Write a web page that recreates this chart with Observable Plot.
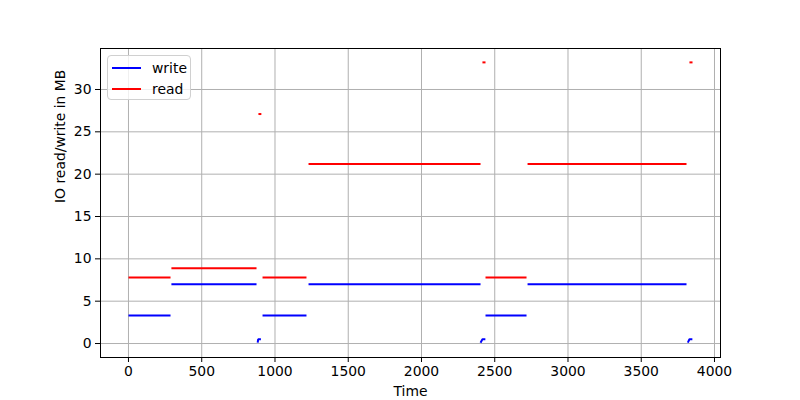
<!DOCTYPE html>
<html>
<head>
<meta charset="utf-8">
<script src="https://cdn.jsdelivr.net/npm/d3@7"></script>
<script src="https://cdn.jsdelivr.net/npm/@observablehq/plot@0.6"></script>
<style>
  html, body { margin: 0; padding: 0; background: #fff; }
  #wrap { position: relative; width: 800px; height: 400px; font-family: "DejaVu Sans", sans-serif; }
  #legend { position: absolute; left: 107px; top: 55px; width: 84px; height: 45px; border: 1px solid #d0d0d0; border-radius: 4px; background: rgba(255,255,255,0.8); box-sizing: border-box; font-size: 13.9px; color: #000; }
  .item { position: absolute; left: 4px; height: 16px; display: flex; align-items: center; }
  .sw { width: 29px; height: 2px; margin-right: 11px; }
</style>
</head>
<body>
<div id="wrap"></div>
<script>
// Segment data (time in seconds, values in MB)
const segStart = [0, 293, 915, 1229, 2437, 2724];
const segEnd   = [287, 874, 1215, 2403, 2717, 3809];
const writeVal = [3.3, 7.0, 3.3, 7.0, 3.3, 7.0];
const readVal  = [7.8, 8.9, 7.8, 21.2, 7.8, 21.2];

// Short blips between phases
const writeBlipTime = [[882, 885, 904], [2403, 2416, 2436], [3818, 3829, 3849]];
const writeBlipVal  = [[0.1, 0.5, 0.5], [0.1, 0.5, 0.5], [0.1, 0.5, 0.5]];
const readBlipTime  = [[887, 907], [2416, 2437], [3829, 3850]];
const readBlipVal   = [[27.1, 27.1], [33.2, 33.2], [33.2, 33.2]];

const xTicks = [0, 500, 1000, 1500, 2000, 2500, 3000, 3500, 4000];
const yTicks = [0, 5, 10, 15, 20, 25, 30];
const seriesNames = ["write", "read"];
const seriesColors = ["blue", "red"];

const rows = [];
segStart.forEach((s, i) => {
  rows.push({t: s, v: writeVal[i], series: "write", seg: "w" + i});
  rows.push({t: segEnd[i], v: writeVal[i], series: "write", seg: "w" + i});
  rows.push({t: s, v: readVal[i], series: "read", seg: "r" + i});
  rows.push({t: segEnd[i], v: readVal[i], series: "read", seg: "r" + i});
});
const blips = [];
writeBlipTime.forEach((ts, i) => ts.forEach((t, j) => blips.push({t, v: writeBlipVal[i][j], series: "write", seg: "wb" + i})));
readBlipTime.forEach((ts, i) => ts.forEach((t, j) => blips.push({t, v: readBlipVal[i][j], series: "read", seg: "rb" + i})));

const font = "DejaVu Sans, sans-serif";
const fmt = d => String(d);
const chart = Plot.plot({
  width: 800,
  height: 400,
  marginLeft: 100,
  marginRight: 80,
  marginTop: 48,
  marginBottom: 43,
  style: {fontFamily: font, fontSize: "13.9px", color: "#000", background: "#fff"},
  x: {domain: [-191, 4041]},
  y: {domain: [-1.65, 34.84]},
  color: {domain: seriesNames, range: seriesColors},
  marks: [
    Plot.gridX(xTicks, {stroke: "#b0b0b0", strokeOpacity: 1, strokeWidth: 1}),
    Plot.gridY(yTicks, {stroke: "#b0b0b0", strokeOpacity: 1, strokeWidth: 1}),
    Plot.line(rows, {x: "t", y: "v", z: "seg", stroke: "series", strokeWidth: 2, strokeLinecap: "butt"}),
    Plot.line(blips, {x: "t", y: "v", z: "seg", stroke: "series", strokeWidth: 2, strokeLinecap: "butt", strokeLinejoin: "miter"}),
    Plot.frame({stroke: "#000", strokeWidth: 1}),
    Plot.axisX(xTicks, {tickSize: 5, tickPadding: 4, label: null, tickFormat: fmt, fontSize: 13.9, stroke: "#000"}),
    Plot.axisY(yTicks, {tickSize: 5, tickPadding: 4, label: null, tickFormat: fmt, fontSize: 13.9, stroke: "#000"}),
    Plot.text(["Time"], {frameAnchor: "bottom", dy: 38, fontSize: 13.9, fill: "#000"}),
    Plot.text(["IO read/write in MB"], {frameAnchor: "left", dx: -40, rotate: -90, fontSize: 13.9, fill: "#000"})
  ]
});
const wrap = document.getElementById("wrap");
wrap.appendChild(chart);

const legend = document.createElement("div");
legend.id = "legend";
seriesNames.forEach((name, i) => {
  const item = document.createElement("div");
  item.className = "item";
  item.style.top = (4 + i * 21) + "px";
  const sw = document.createElement("div");
  sw.className = "sw";
  sw.style.background = seriesColors[i];
  const label = document.createElement("span");
  label.textContent = name;
  item.appendChild(sw);
  item.appendChild(label);
  legend.appendChild(item);
});
wrap.appendChild(legend);
</script>
</body>
</html>
